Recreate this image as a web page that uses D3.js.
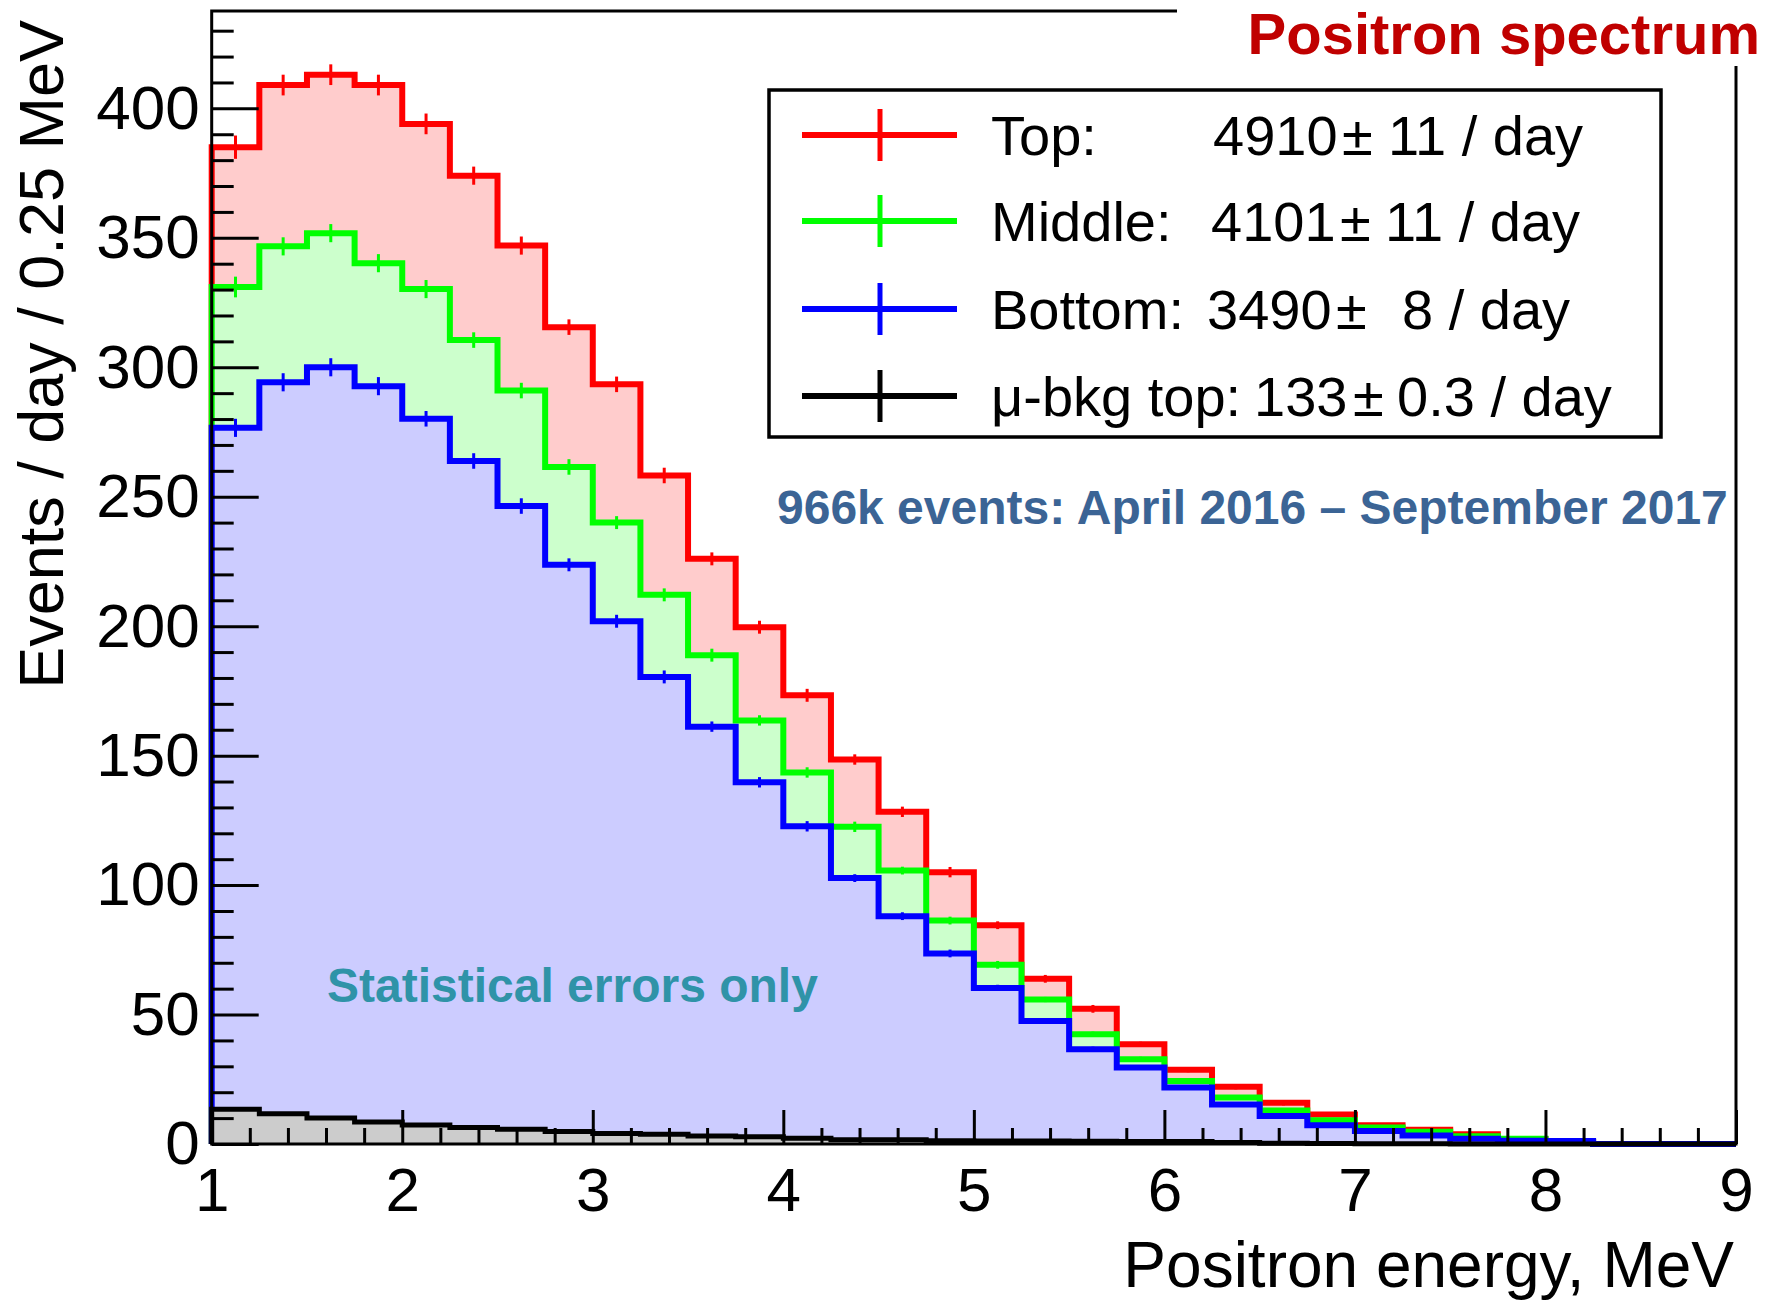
<!DOCTYPE html>
<html>
<head>
<meta charset="utf-8">
<script src="https://cdn.jsdelivr.net/npm/d3@7"></script>
<style>
  body { margin: 0; background: #fff; }
  svg { display: block; font-family: 'Liberation Sans', Arial, Helvetica, sans-serif; }
</style>
</head>
<body>
<div id="chart"></div>
<script>
// positron spectrum, 0.25 MeV bins, events / day
const binLow = [1.00, 1.25, 1.50, 1.75, 2.00, 2.25, 2.50, 2.75, 3.00, 3.25, 3.50, 3.75,
                4.00, 4.25, 4.50, 4.75, 5.00, 5.25, 5.50, 5.75, 6.00, 6.25, 6.50, 6.75,
                7.00, 7.25, 7.50, 7.75, 8.00, 8.25, 8.50, 8.75];

const topRate = [385, 409, 413, 409, 394, 374, 347, 315.5, 293.4, 258.2, 226, 199.6,
                 173.3, 148.5, 128.3, 105, 84.5, 63.8, 52.2, 38.5, 28.7, 22.1, 15.9, 11.4,
                 7.2, 5.5, 3.8, 1.9, 0.8, 0, 0, 0];
const middleRate = [331, 346.7, 351.8, 340.2, 330.2, 310.5, 291, 261.5, 240, 212.1, 188.8, 163.6,
                    143.5, 122.5, 105.6, 86.3, 69.2, 55.8, 42.4, 32.7, 24.3, 18, 12.9, 9.2,
                    6.4, 4.7, 3.0, 2.0, 0.7, 0, 0, 0];
const bottomRate = [276.6, 294.2, 300, 292.7, 280.1, 263.8, 246.4, 223.7, 201.9, 180.4, 161.2, 139.7,
                    122.7, 102.7, 88, 73.6, 60.3, 47.5, 36.6, 29.5, 21.8, 15.3, 10.8, 7.2,
                    5.0, 3.3, 2.0, 1.3, 1.2, 0, 0, 0];
const bkgRate = [13.4, 11.7, 10.0, 8.5, 7.3, 6.4, 5.7, 4.8, 4.1, 3.8, 3.1, 2.8,
                 2.2, 1.6, 1.6, 1.3, 1.2, 1.2, 1.1, 1.0, 1.0, 0.6, 0.3, 0.2,
                 0.1, 0.1, 0, 0, 0, 0, 0, 0];

// statistical errors (only the ones poking out of the line are visible)
const topErr = [4.5, 4, 4, 4, 4, 3.5, 3.5, 3, 3, 3, 2.5, 2.5,
                2.5, 2, 2, 2, 1.5, 1.5, 1.5, 1, 1, 1, 1, 0.8,
                0.7, 0.6, 0.5, 0.4, 0.3, 0, 0, 0];
const middleErr = [4, 3.5, 3.5, 3.5, 3.5, 3, 3, 3, 2.5, 2.5, 2.5, 2,
                   2, 2, 1.5, 1.5, 1.5, 1, 1, 1, 1, 0.8, 0.7, 0.6,
                   0.5, 0.4, 0.3, 0.3, 0.2, 0, 0, 0];
const bottomErr = [3.5, 3.5, 3.5, 3.5, 3, 3, 3, 2.5, 2.5, 2.5, 2, 2,
                   2, 1.5, 1.5, 1.5, 1.2, 1, 1, 0.8, 0.8, 0.7, 0.6, 0.5,
                   0.4, 0.3, 0.3, 0.2, 0.2, 0, 0, 0];

const yTicks = [0, 50, 100, 150, 200, 250, 300, 350, 400];
const xTicks = [1, 2, 3, 4, 5, 6, 7, 8, 9];

const legendNames = ['Top:', 'Middle:', 'Bottom:', '\u03bc-bkg top:'];
const legendRates = ['4910', '4101', '3490', '133'];
const legendErrs = ['11', '11', '8', '0.3'];

const binWidth = 0.25;
const W = 1766, H = 1300;

const svg = d3.select('#chart')
    .append('svg')
    .attr('width', W)
    .attr('height', H)
    .attr('viewBox', [0, 0, W, H]);

const x = d3.scaleLinear().domain([1, 9]).range([211.7, 1736]);
const y = d3.scaleLinear().domain([0, 437.6]).range([1144, 11]);

const series = [
    { values: topRate, err: topErr, line: '#ff0000', fill: '#ffcccc', width: 6 },
    { values: middleRate, err: middleErr, line: '#00ff00', fill: '#ccffcc', width: 6 },
    { values: bottomRate, err: bottomErr, line: '#0000ff', fill: '#ccccff', width: 6 },
    { values: bkgRate, err: null, line: '#000000', fill: '#cccccc', width: 5 }
];

const stepLine = d3.line()
    .x(d => x(d.e))
    .y(d => y(d.v))
    .curve(d3.curveStepAfter);

const stepArea = d3.area()
    .x(d => x(d.e))
    .y0(y(0))
    .y1(d => y(d.v))
    .curve(d3.curveStepAfter);

const hists = svg.append('g').attr('class', 'hists');

series.forEach(s => {
    // start at zero on the left edge, step through bins, drop back to zero at the end
    const pts = [{ e: binLow[0], v: 0 }]
        .concat(binLow.map((b, i) => ({ e: b, v: s.values[i] })))
        .concat([{ e: binLow[binLow.length - 1] + binWidth, v: 0 }]);

    hists.append('path')
        .attr('d', stepArea(pts))
        .attr('fill', s.fill)
        .attr('stroke', 'none');

    hists.append('path')
        .attr('d', stepLine(pts))
        .attr('fill', 'none')
        .attr('stroke', s.line)
        .attr('stroke-width', s.width)
        .attr('stroke-linejoin', 'miter');

    if (s.err) {
        hists.append('g')
            .selectAll('line')
            .data(binLow.map((b, i) => ({ e: b + binWidth / 2, v: s.values[i], err: s.err[i] }))
                .filter(d => d.err > 0))
            .join('line')
            .attr('x1', d => x(d.e))
            .attr('x2', d => x(d.e))
            .attr('y1', d => y(d.v - d.err))
            .attr('y2', d => y(d.v + d.err))
            .attr('stroke', s.line)
            .attr('stroke-width', 3);
    }
});

// frame
const frame = svg.append('g').attr('class', 'frame');
frame.append('rect')
    .attr('x', x(1))
    .attr('y', y(437.6))
    .attr('width', x(9) - x(1))
    .attr('height', y(0) - y(437.6))
    .attr('fill', 'none')
    .attr('stroke', '#000')
    .attr('stroke-width', 3);

// axes, ticks point inwards like ROOT
function styleAxis(g, fontSize) {
    g.select('.domain').remove();
    g.selectAll('.tick line').attr('stroke', '#000').attr('stroke-width', 3);
    g.selectAll('.tick text')
        .attr('font-size', fontSize)
        .attr('font-family', "'Liberation Sans', Arial, sans-serif")
        .attr('fill', '#000');
}

const yMinor = d3.range(0, 437, 10).filter(v => v % 50 !== 0);
const xMinor = d3.range(10, 90, 2).filter(v => v % 10 !== 0).map(v => v / 10);

svg.append('g')
    .attr('transform', `translate(${x(1)},0)`)
    .call(d3.axisLeft(y).tickValues(yMinor).tickSize(-22).tickFormat(''))
    .call(g => styleAxis(g, 62));

svg.append('g')
    .attr('transform', `translate(${x(1)},0)`)
    .call(d3.axisLeft(y).tickValues(yTicks).tickSize(-47).tickPadding(12))
    .call(g => styleAxis(g, 62));

svg.append('g')
    .attr('transform', `translate(0,${y(0)})`)
    .call(d3.axisBottom(x).tickValues(xMinor).tickSize(-16).tickFormat(''))
    .call(g => styleAxis(g, 62));

svg.append('g')
    .attr('transform', `translate(0,${y(0)})`)
    .call(d3.axisBottom(x).tickValues(xTicks).tickSize(-34).tickPadding(23).tickFormat(d3.format('d')))
    .call(g => styleAxis(g, 62));

// axis titles
svg.append('text')
    .attr('transform', 'translate(63,20) rotate(-90)')
    .attr('text-anchor', 'end')
    .attr('font-size', 63)
    .text('Events / day / 0.25 MeV');

svg.append('text')
    .attr('x', 1734)
    .attr('y', 1287)
    .attr('text-anchor', 'end')
    .attr('font-size', 64)
    .text('Positron energy, MeV');

// title box covers the frame corner
svg.append('rect')
    .attr('x', 1177)
    .attr('y', 0)
    .attr('width', W - 1177)
    .attr('height', 66)
    .attr('fill', '#fff');

svg.append('text')
    .attr('x', 1760)
    .attr('y', 54)
    .attr('text-anchor', 'end')
    .attr('font-size', 58)
    .attr('font-weight', 'bold')
    .attr('fill', '#c00000')
    .text('Positron spectrum');

// legend
const legend = svg.append('g').attr('class', 'legend');
legend.append('rect')
    .attr('x', 769)
    .attr('y', 90)
    .attr('width', 892)
    .attr('height', 347)
    .attr('fill', '#fff')
    .attr('stroke', '#000')
    .attr('stroke-width', 3.5);

const rowY = [135, 221, 309, 396];
const rateX = [1213, 1211, 1207, 1254];
const pmX = [1342, 1340, 1336, 1353];
const errX = [1388, 1385, 1402, 1397];

series.forEach((s, i) => {
    const row = legend.append('g').attr('transform', `translate(0,${rowY[i]})`);
    row.append('line')
        .attr('x1', 802).attr('x2', 957)
        .attr('y1', 0).attr('y2', 0)
        .attr('stroke', s.line)
        .attr('stroke-width', 6);
    row.append('line')
        .attr('x1', 880).attr('x2', 880)
        .attr('y1', -26).attr('y2', 26)
        .attr('stroke', s.line)
        .attr('stroke-width', 5);

    const t = row.append('text')
        .attr('y', 20)
        .attr('font-size', 56)
        .attr('fill', '#000');
    t.append('tspan').attr('x', 991).text(legendNames[i]);
    t.append('tspan').attr('x', rateX[i]).text(legendRates[i]);
    t.append('tspan').attr('x', pmX[i]).text('\u00b1');
    t.append('tspan').attr('x', errX[i]).text(legendErrs[i] + ' / day');
});

// annotations
svg.append('text')
    .attr('x', 777)
    .attr('y', 524)
    .attr('font-size', 48)
    .attr('font-weight', 'bold')
    .attr('fill', '#3b6495')
    .text('966k events: April 2016 \u2013 September 2017');

svg.append('text')
    .attr('x', 327)
    .attr('y', 1002)
    .attr('font-size', 48)
    .attr('font-weight', 'bold')
    .attr('fill', '#2f93a8')
    .text('Statistical errors only');
</script>
</body>
</html>
